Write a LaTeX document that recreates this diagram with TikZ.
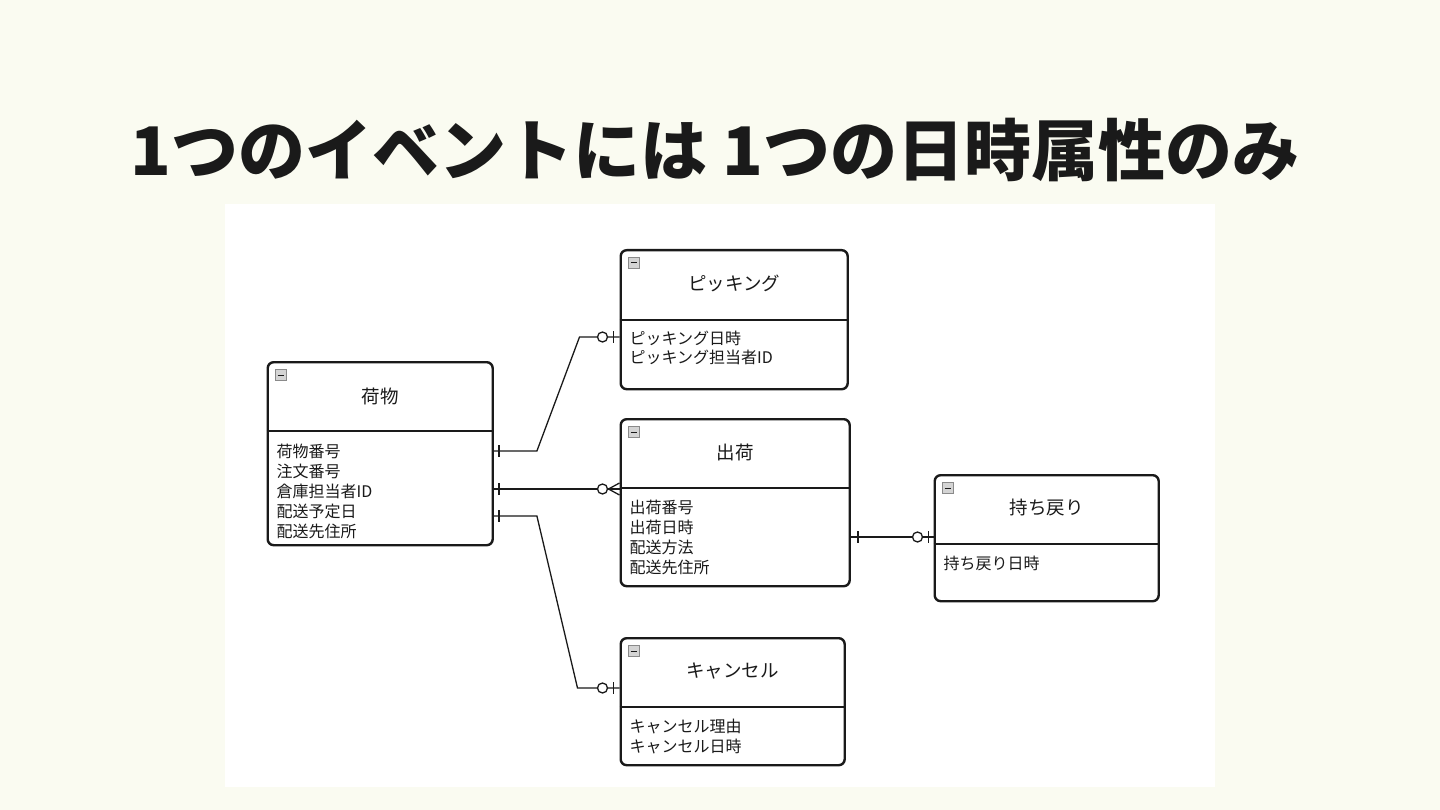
\documentclass[tikz,border=0pt]{standalone}
\usepackage{fontspec}
\setmainfont{Noto Sans CJK JP}
\newfontfamily\titlefont{Noto Sans CJK JP}
\usetikzlibrary{calc}
\definecolor{bg}{HTML}{FAFBF1}
\definecolor{ink}{HTML}{1A1A1A}
\definecolor{iconfill}{HTML}{D4D4D4}
\definecolor{iconline}{HTML}{8A8A8A}
\tikzset{
  entity/.style={draw=ink, line width=2.4pt, rounded corners=6pt, fill=white, anchor=north west, inner sep=0pt},
  divider/.style={draw=ink, line width=2.4pt},
  etitle/.style={font=\fontsize{18.5}{20}\selectfont, text=ink, inner sep=0pt},
  attr/.style={font=\fontsize{16}{20}\selectfont, text=ink, inner sep=0pt, anchor=base west},
  rel/.style={draw=ink, line width=1.3pt},
  mk/.style={draw=ink, line width=1.3pt},
  ring/.style={draw=ink, line width=1.3pt, fill=white},
}
\newcommand{\eicon}[1]{%
  \draw[draw=iconline, fill=iconfill, line width=0.6pt] ($(#1.north west)+(8.5,8.5)$) rectangle ++(11,11);
  \draw[draw=ink, line width=1pt] ($(#1.north west)+(11,14)$) -- ++(6,0);}
\begin{document}
\begin{tikzpicture}[x=1pt,y=-1pt]
\useasboundingbox[fill=bg] (0,0) rectangle (1440,810);
\fill[white] (225,204) rectangle (1215,787);

\node[font=\titlefont\bfseries\fontsize{67}{70}\selectfont, text=ink, inner sep=0pt] (title) at (715,150) {1つのイベントには 1つの日時属性のみ};

% 荷物
\node[entity, minimum width=225pt, minimum height=183pt] (nim) at (266.5,361) {};
\draw[divider] ($(nim.north west)+(0,70)$) -- ($(nim.north east)+(0,70)$);
\node[etitle] (nimT) at ($(nim.north)+(0,35)$) {荷物};
\node[attr] (nimA1) at ($(nim.north west)+(10,96)$) {荷物番号};
\node[attr] (nimA2) at ($(nim.north west)+(10,116)$) {注文番号};
\node[attr] (nimA3) at ($(nim.north west)+(10,136)$) {倉庫担当者ID};
\node[attr] (nimA4) at ($(nim.north west)+(10,156)$) {配送予定日};
\node[attr] (nimA5) at ($(nim.north west)+(10,176)$) {配送先住所};
\eicon{nim}

% ピッキング
\node[entity, minimum width=227pt, minimum height=139pt] (pick) at (619.5,249) {};
\draw[divider] ($(pick.north west)+(0,71)$) -- ($(pick.north east)+(0,71)$);
\node[etitle] (pickT) at ($(pick.north)+(0,34)$) {ピッキング};
\node[attr] (pickA1) at ($(pick.north west)+(10,95)$) {ピッキング日時};
\node[attr] (pickA2) at ($(pick.north west)+(10,114)$) {ピッキング担当者ID};
\eicon{pick}

% 出荷
\node[entity, minimum width=229pt, minimum height=167pt] (ship) at (619.5,418) {};
\draw[divider] ($(ship.north west)+(0,70)$) -- ($(ship.north east)+(0,70)$);
\node[etitle] (shipT) at ($(ship.north)+(0,34)$) {出荷};
\node[attr] (shipA1) at ($(ship.north west)+(10,95)$) {出荷番号};
\node[attr] (shipA2) at ($(ship.north west)+(10,115)$) {出荷日時};
\node[attr] (shipA3) at ($(ship.north west)+(10,135)$) {配送方法};
\node[attr] (shipA4) at ($(ship.north west)+(10,155)$) {配送先住所};
\eicon{ship}

% 持ち戻り
\node[entity, minimum width=224pt, minimum height=126pt] (ret) at (933.5,474) {};
\draw[divider] ($(ret.north west)+(0,70)$) -- ($(ret.north east)+(0,70)$);
\node[etitle] (retT) at ($(ret.north)+(0,34)$) {持ち戻り};
\node[attr] (retA1) at ($(ret.north west)+(10,95)$) {持ち戻り日時};
\eicon{ret}

% キャンセル
\node[entity, minimum width=224pt, minimum height=127pt] (can) at (619.5,637) {};
\draw[divider] ($(can.north west)+(0,70)$) -- ($(can.north east)+(0,70)$);
\node[etitle] (canT) at ($(can.north)+(0,34)$) {キャンセル};
\node[attr] (canA1) at ($(can.north west)+(10,95)$) {キャンセル理由};
\node[attr] (canA2) at ($(can.north west)+(10,115)$) {キャンセル日時};
\eicon{can}

% connector 荷物 - ピッキング
\coordinate (c1a) at ($(nim.north east)+(0,90)$);
\coordinate (c1b) at ($(pick.north west)+(0,88)$);
\draw[rel] (c1a) -- ++(43,0) -- ($(c1b)+(-40,0)$) -- (c1b);
\draw[mk] ($(c1a)+(5,-6)$) -- ++(0,12);
\draw[mk] ($(c1b)+(-6,-6)$) -- ++(0,12);
\draw[ring] ($(c1b)+(-17,0)$) circle (5);

% connector 荷物 - 出荷
\coordinate (c2a) at ($(nim.north east)+(0,128)$);
\coordinate (c2b) at ($(ship.north west)+(0,71)$);
\draw[rel] (c2a) -- (c2b);
\draw[mk] ($(c2a)+(5,-6)$) -- ++(0,12);
\draw[mk] ($(c2b)+(-11,0)$) -- ($(c2b)+(0,-6)$);
\draw[mk] ($(c2b)+(-11,0)$) -- ($(c2b)+(0,6)$);
\draw[ring] ($(c2b)+(-17,0)$) circle (5);

% connector 荷物 - キャンセル
\coordinate (c3a) at ($(nim.north east)+(0,155)$);
\coordinate (c3b) at ($(can.north west)+(0,51)$);
\draw[rel] (c3a) -- ++(43,0) -- ($(c3b)+(-42,0)$) -- (c3b);
\draw[mk] ($(c3a)+(5,-6)$) -- ++(0,12);
\draw[mk] ($(c3b)+(-6,-6)$) -- ++(0,12);
\draw[ring] ($(c3b)+(-17,0)$) circle (5);

% connector 出荷 - 持ち戻り
\coordinate (c4a) at ($(ship.north east)+(0,119)$);
\coordinate (c4b) at ($(ret.north west)+(0,63)$);
\draw[rel] (c4a) -- (c4b);
\draw[mk] ($(c4a)+(7,-6)$) -- ++(0,12);
\draw[mk] ($(c4b)+(-5,-6)$) -- ++(0,12);
\draw[ring] ($(c4b)+(-16,0)$) circle (5);
\end{tikzpicture}
\end{document}
